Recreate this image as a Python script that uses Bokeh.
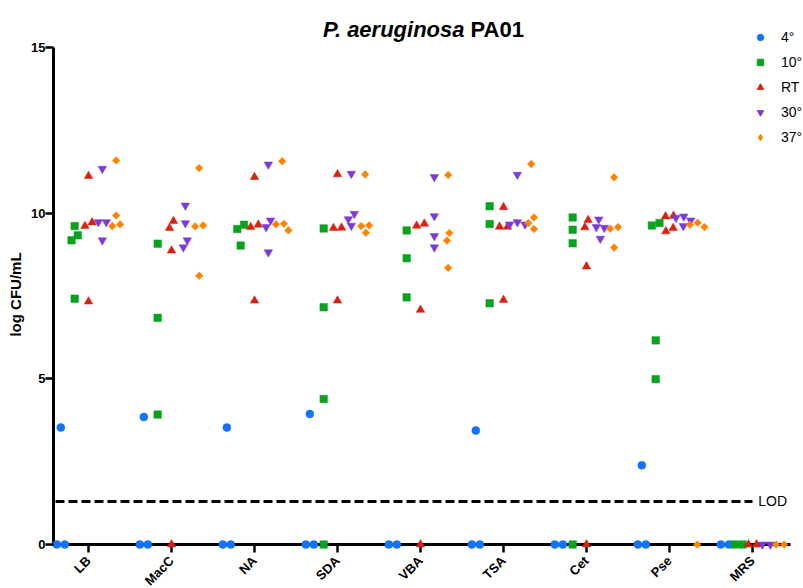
import math

from bokeh.core.properties import value
from bokeh.embed import file_html
from bokeh.models import ColumnDataSource, FixedTicker, Label
from bokeh.plotting import figure
from bokeh.resources import INLINE

# ---- data: log CFU/mL per medium, one list of replicates per medium ----
media = ["LB", "MacC", "NA", "SDA", "VBA", "TSA", "Cet", "Pse", "MRS"]
temps = ["4°", "10°", "RT", "30°", "37°"]

cfu_4 = [
    [3.53, 0, 0], [3.85, 0, 0], [3.53, 0, 0], [3.94, 0, 0], [0, 0],
    [3.44, 0, 0], [0, 0], [2.39, 0, 0], [0, 0],
]
cfu_10 = [
    [9.33, 9.61, 9.18, 7.42], [9.08, 6.84, 3.92], [9.65, 9.52, 9.02],
    [9.54, 7.16, 4.39, 0], [9.48, 8.64, 7.46], [10.21, 9.67, 7.28],
    [9.87, 9.50, 9.09, 0], [9.63, 9.70, 6.16, 4.99], [0, 0],
]
cfu_rt = [
    [11.12, 9.72, 9.61, 7.33], [9.55, 9.76, 8.87, 0], [11.09, 9.65, 9.58, 7.36],
    [11.17, 9.56, 9.55, 7.36], [9.62, 9.68, 7.08, 0], [10.18, 9.59, 9.59, 7.38],
    [9.57, 9.79, 8.39, 0], [9.92, 9.90, 9.45, 9.55], [0, 0],
]
cfu_30 = [
    [11.34, 9.73, 9.73, 9.18], [10.23, 9.70, 8.97, 9.18], [11.47, 9.78, 9.58, 8.82],
    [11.19, 9.98, 9.82, 9.62], [11.09, 9.91, 9.31, 8.97], [11.16, 9.73, 9.66, 9.66],
    [9.81, 9.58, 9.56, 9.23], [9.86, 9.90, 9.78, 9.61], [0, 0],
]
cfu_37 = [
    [11.59, 9.93, 9.61, 9.66], [11.36, 9.63, 9.60, 8.11], [11.57, 9.68, 9.48, 9.66],
    [11.17, 9.63, 9.41, 9.61], [11.15, 9.40, 9.17, 8.35], [11.48, 9.87, 9.70, 9.52],
    [11.08, 9.58, 9.53, 8.96], [9.65, 9.58, 9.71, 0], [0, 0],
]
series = [cfu_4, cfu_10, cfu_rt, cfu_30, cfu_37]

lod = 1.3
y_ticks = [0, 5, 10, 15]
y_top = 15

# ---- styling ----
colors = ["#1273FF", "#08A21E", "#D8210F", "#7D39DA", "#FF8200"]
markers = ["circle", "square", "triangle", "inverted_triangle", "square"]
legend_markers = ["circle", "square", "triangle", "inverted_triangle", "diamond"]
sizes = [8, 7.5, 8.5, 8.5, 5.4]
angles = [0, 0, 0, 0, math.pi / 4]
FONT = "Liberation Sans"

# ---- canvas geometry (px) ----
W, H = 803, 588
B_LEFT = 48
PX_X = 83.0          # px between two media
PX_Y = 33.135        # px per log unit
X0_PX = 88.0         # centre of the first medium
Y0_PX = 544.0        # baseline (log 0)
AXIS_X_PX = 53.0     # where the value axis is drawn
AXIS_END_PX = 790.0  # right end of the category axis
TICK_PX = 8.0        # category tick length
LABEL_DROP_PX = 14.0 # category label anchor below the baseline

frame_w = W - B_LEFT
x_start = (B_LEFT - X0_PX) / PX_X
x_end = x_start + frame_w / PX_X
y_start = -(H - Y0_PX) / PX_Y
y_end = Y0_PX / PX_Y
x_axis = (AXIS_X_PX - X0_PX) / PX_X
x_axis_end = (AXIS_END_PX - X0_PX) / PX_X

DOT = 8.0            # footprint of one marker, px
GROUP_STEP = 1 / 6   # spacing between temperature columns inside a medium


def swarm(vals):
    """Horizontal offsets (px) that keep markers of one column from overlapping."""
    order = sorted(range(len(vals)), key=lambda i: -vals[i])
    offs = [0.0] * len(vals)
    placed = []
    for i in order:
        y = vals[i] * PX_Y
        blocked = []
        for j in placed:
            dy = abs(y - vals[j] * PX_Y)
            if dy < DOT:
                w = math.sqrt(DOT * DOT - dy * dy)
                blocked.append((offs[j] - w, offs[j] + w))
        cands = [0.0] + [a for a, _ in blocked] + [b for _, b in blocked]
        cands.sort(key=lambda c: (round(abs(c), 6), c))
        for c in cands:
            if all(not (a + 1e-6 < c < b - 1e-6) for a, b in blocked):
                offs[i] = c
                break
        placed.append(i)
    # centre every touching cluster on its column
    n = len(vals)
    seen = [False] * n
    for s in range(n):
        if seen[s]:
            continue
        comp, stack = [], [s]
        seen[s] = True
        while stack:
            k = stack.pop()
            comp.append(k)
            for m in range(n):
                if not seen[m]:
                    d = math.hypot(offs[k] - offs[m], (vals[k] - vals[m]) * PX_Y)
                    if d < DOT + 0.5:
                        seen[m] = True
                        stack.append(m)
        mid = (max(offs[k] for k in comp) + min(offs[k] for k in comp)) / 2
        for k in comp:
            offs[k] -= mid
    return offs


p = figure(
    width=W, height=H, x_range=(x_start, x_end), y_range=(y_start, y_end),
    output_backend="svg", toolbar_location=None,
    min_border_left=B_LEFT, min_border_right=0,
    min_border_top=0, min_border_bottom=0,
)
p.outline_line_color = None
p.xgrid.visible = False
p.ygrid.visible = False
p.background_fill_color = "white"
p.border_fill_color = "white"
p.xaxis.visible = False

# axis lines
p.segment(x0=[x_axis], y0=[0], x1=[x_axis], y1=[y_top],
          line_color="black", line_width=3)
p.segment(x0=[x_axis - 1.5 / PX_X], y0=[0], x1=[x_axis_end], y1=[0],
          line_color="black", line_width=3)

# category ticks and labels
cat_x = list(range(len(media)))
p.segment(x0=cat_x, y0=[0] * len(media), x1=cat_x,
          y1=[-TICK_PX / PX_Y] * len(media), line_color="black", line_width=2.5)
p.text(x=cat_x, y=[-LABEL_DROP_PX / PX_Y] * len(media), text=media,
       angle=math.pi / 4, text_align="right", text_baseline="middle",
       text_font=value(FONT), text_font_style="bold", text_font_size="13px",
       text_color="black")

# limit of detection
p.segment(x0=[x_axis + 2 / PX_X], y0=[lod], x1=[len(media) - 1], y1=[lod],
          line_color="black", line_width=3, line_dash="9 4")
p.text(x=[len(media) - 1 + 0.07], y=[lod], text=["LOD"],
       text_baseline="middle", text_align="left", text_font_size="14px",
       text_font=value(FONT), text_color="black")

for g, (name, data) in enumerate(zip(temps, series)):
    xs, ys = [], []
    for ci, vals in enumerate(data):
        offs = swarm(vals)
        for v, o in zip(vals, offs):
            xs.append(ci + (g - 2) * GROUP_STEP + o / PX_X)
            ys.append(v)
    src = ColumnDataSource(dict(x=xs, y=ys))
    p.scatter("x", "y", source=src, marker=markers[g], size=sizes[g],
              angle=angles[g], fill_color=colors[g], line_color=colors[g],
              line_width=0.5)
    # legend key (no visible point in the plot area)
    p.scatter(x=[math.nan], y=[math.nan], marker=legend_markers[g], size=8,
              fill_color=colors[g], line_color=colors[g], legend_label=name)

# value axis: ticks and tick labels
p.yaxis.ticker = FixedTicker(ticks=y_ticks)
p.yaxis.axis_line_color = None
p.yaxis.major_tick_in = 5
p.yaxis.major_tick_out = 3
p.yaxis.major_tick_line_width = 2.5
p.yaxis.major_tick_line_color = "black"
p.yaxis.minor_tick_line_color = None
p.yaxis.major_label_text_font = FONT
p.yaxis.major_label_text_font_style = "bold"
p.yaxis.major_label_text_font_size = "13px"
p.yaxis.major_label_text_color = "black"
p.yaxis.major_label_standoff = 0
p.yaxis.axis_label = "log CFU/mL"
p.yaxis.axis_label_text_font = FONT
p.yaxis.axis_label_text_font_style = "bold"
p.yaxis.axis_label_text_font_size = "15px"
p.yaxis.axis_label_text_color = "black"
p.yaxis.axis_label_standoff = 4

# title in two styles
title_y = (Y0_PX - 29) / PX_Y
p.add_layout(Label(x=(464 - X0_PX) / PX_X, y=title_y, text="P. aeruginosa",
                   text_align="right", text_baseline="alphabetic",
                   text_font=FONT, text_font_style="bold italic",
                   text_font_size="22px", text_color="black"))
p.add_layout(Label(x=(470 - X0_PX) / PX_X, y=title_y, text="PA01",
                   text_align="left", text_baseline="alphabetic",
                   text_font=FONT, text_font_style="bold",
                   text_font_size="22px", text_color="black"))

# legend
lg = p.legend[0]
lg.location = (752 - B_LEFT, H - 147)
lg.border_line_color = None
lg.background_fill_alpha = 0
lg.padding = 0
lg.margin = 0
lg.spacing = 5
lg.glyph_width = 16
lg.glyph_height = 16
lg.label_height = 20
lg.label_standoff = 13
lg.label_text_font = FONT
lg.label_text_font_size = "14px"
lg.label_text_color = "black"

open("out.html", "w").write(file_html(p, INLINE))
